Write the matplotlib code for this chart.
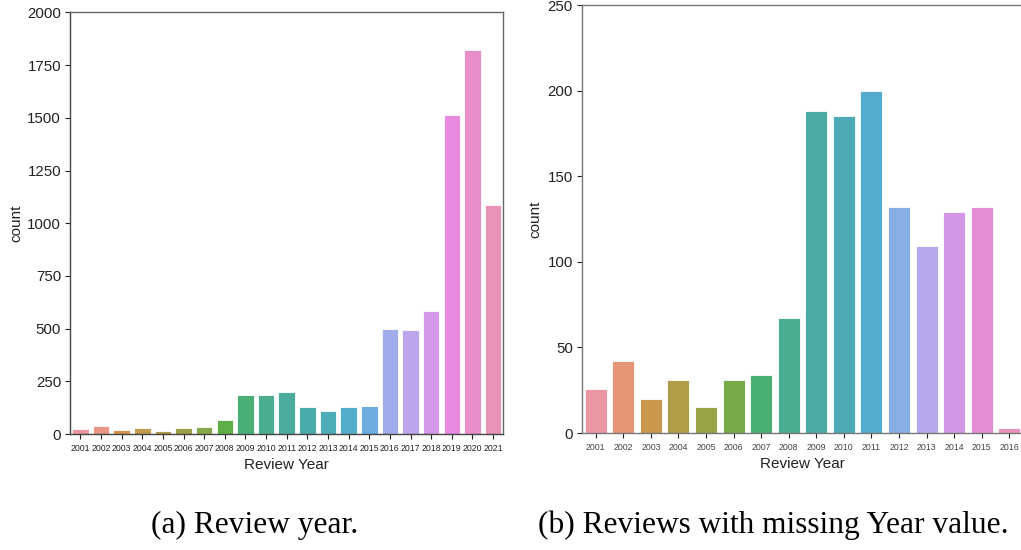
import colorsys
import math

import numpy as np
import matplotlib
matplotlib.use("Agg")
import matplotlib.pyplot as plt

# ─── Data ─────────────────────────────────────────────────────────────────────
years_all = [str(y) for y in range(2001, 2022)]
counts_all = [25, 40, 18, 30, 14, 30, 33, 65, 186, 183, 198, 130, 107, 126, 132,
              498, 492, 583, 1515, 1823, 1086]

years_missing = [str(y) for y in range(2001, 2017)]
counts_missing = [26, 42, 20, 31, 15, 31, 34, 67, 188, 185, 200, 132, 109, 129, 132, 3]

caption_a = "(a) Review year."
caption_b = "(b) Reviews with missing Year value."

# ─── HUSL palette (same maths seaborn uses for many categories) ──────────────
M = [[3.2406, -1.5372, -0.4986],
     [-0.9689, 1.8758, 0.0415],
     [0.0557, -0.2040, 1.0570]]
REF_U, REF_V = 0.19784, 0.46834
LAB_E, LAB_K = 0.008856, 903.3


def max_chroma(L, H):
    hrad = math.radians(H)
    sin_h, cos_h = math.sin(hrad), math.cos(hrad)
    sub1 = (L + 16) ** 3 / 1560896.0
    sub2 = sub1 if sub1 > LAB_E else L / LAB_K
    result = float("inf")
    for m1, m2, m3 in M:
        top = (0.99915 * m1 + 1.05122 * m2 + 1.14460 * m3) * sub2
        rbottom = 0.86330 * m3 - 0.17266 * m2
        lbottom = 0.12949 * m3 - 0.38848 * m1
        bottom = (rbottom * sin_h + lbottom * cos_h) * sub2
        for t in (0.0, 1.0):
            c = L * (top - 1.05122 * t) / (bottom + 0.17266 * sin_h * t)
            if 0 < c < result:
                result = c
    return result


def husl_to_rgb(h, s, l):
    c = max_chroma(l, h) / 100.0 * s
    u = math.cos(math.radians(h)) * c
    v = math.sin(math.radians(h)) * c
    t = (l + 16) / 116.0
    var_y = t ** 3 if t ** 3 > LAB_E else (116 * t - 16) / LAB_K
    var_u = u / (13 * l) + REF_U
    var_v = v / (13 * l) + REF_V
    Y = var_y
    X = -(9 * Y * var_u) / ((var_u - 4) * var_v - var_u * var_v)
    Z = (9 * Y - 15 * var_v * Y - var_v * X) / (3 * var_v)
    out = []
    for row in M:
        lin = row[0] * X + row[1] * Y + row[2] * Z
        out.append(12.92 * lin if lin <= 0.0031308 else 1.055 * lin ** (1 / 2.4) - 0.055)
    return tuple(np.clip(out, 0, 1))


def bar_palette(n, h=0.01, s=0.9, l=0.7, desat=0.75):
    hues = (np.linspace(0, 1, n + 1)[:-1] + h) % 1 * 359
    colors = []
    for hue in hues:
        r, g, b = husl_to_rgb(hue, s * 99, l * 99)
        hh, ll, ss = colorsys.rgb_to_hls(r, g, b)
        colors.append(colorsys.hls_to_rgb(hh, ll, ss * desat))
    return colors


# ─── Plot ─────────────────────────────────────────────────────────────────────
plt.rcParams["font.family"] = ["Liberation Sans", "DejaVu Sans"]

fig = plt.figure(figsize=(10.21, 5.5), dpi=100)
ax1 = fig.add_axes([0.0686, 0.2109, 0.4245, 0.7664])
ax2 = fig.add_axes([0.5700, 0.2127, 0.4320, 0.7782])


def draw_counts(ax, labels, values, yticks, spine_color, tick_color):
    x = np.arange(len(labels))
    ax.bar(x, values, width=0.8, color=bar_palette(len(labels)),
           edgecolor="white", linewidth=0.6)
    ax.set_xlim(-0.5, len(labels) - 0.5)
    ax.set_ylim(yticks[0], yticks[-1])
    ax.set_xticks(x)
    ax.set_xticklabels(labels, fontsize=6.3, color=tick_color)
    ax.set_yticks(yticks)
    ax.tick_params(axis="y", labelsize=10.8, length=3.5, width=0.8,
                   colors="#222222", pad=3)
    ax.tick_params(axis="x", length=3.5, width=0.8, color="#222222", pad=3.5)
    ax.set_xlabel("Review Year", fontsize=11, labelpad=4, color="#222222")
    ax.set_ylabel("count", fontsize=11, color="#222222")
    for side in ("left", "bottom", "top", "right"):
        ax.spines[side].set_color(spine_color)
        ax.spines[side].set_linewidth(1.0)


draw_counts(ax1, years_all, counts_all, list(range(0, 2001, 250)), "#444444", "#222222")
ax1.spines["top"].set_color("#666666")
ax1.spines["right"].set_color("#666666")
ax1.yaxis.labelpad = 3

draw_counts(ax2, years_missing, counts_missing, list(range(0, 251, 50)), "#777777", "#444444")
ax2.yaxis.labelpad = 4

fig.text(0.2493, 0.045, caption_a, ha="center", va="center",
         family=["Liberation Serif"], fontsize=22.6)
fig.text(0.7571, 0.045, caption_b, ha="center", va="center",
         family=["Liberation Serif"], fontsize=22.6)

fig.savefig("out.png", dpi=100)
